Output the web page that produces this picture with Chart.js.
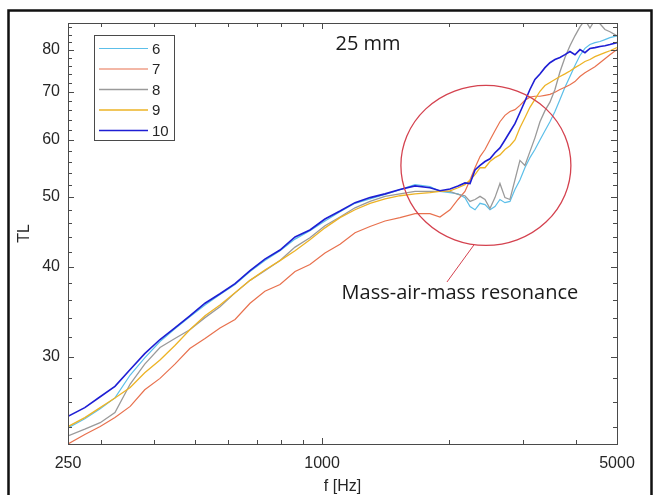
<!DOCTYPE html>
<html>
<head>
<meta charset="utf-8">
<script src="https://cdn.jsdelivr.net/npm/chart.js@4.4.1/dist/chart.umd.min.js"></script>
<style>
  html, body { margin: 0; padding: 0; background: #fff; }
  #wrap { width: 654px; height: 495px; }
</style>
</head>
<body>
<div id="wrap"><canvas id="grafico" width="654" height="495"></canvas></div>
<script>
// Frecuencias (Hz) comunes a todas las curvas
const frecuencias = [250, 274, 298, 323, 351, 380, 413, 448, 486, 528, 573, 622, 675, 732, 795, 863, 936, 1016, 1103, 1197,
  1299, 1410, 1530, 1661, 1802, 1903, 2010, 2100, 2181, 2242, 2304, 2368, 2433, 2500, 2569, 2640, 2713, 2788, 2865, 2944,
  3025, 3109, 3195, 3284, 3375, 3468, 3564, 3663, 3764, 3868, 3975, 4085, 4198, 4314, 4433, 4556, 4682, 4811, 5000];

const tl6 = [23.9, 24.6, 25.4, 26.3, 28.3, 29.9, 31.5, 32.8, 34.1, 35.4, 36.6, 37.8, 39.4, 40.8, 42.1, 43.7, 44.9, 46.3, 47.7, 49.0,
  49.7, 50.4, 51.2, 52.0, 51.7, 50.9, 50.7, 50.5, 49.9, 48.5, 48.0, 49.0, 48.8, 48.0, 48.5, 49.6, 49.1, 49.3, 51.2, 52.8,
  54.9, 56.7, 58.2, 60.0, 61.8, 63.6, 65.7, 68.3, 71.0, 73.5, 76.1, 78.6, 80.4, 81.4, 81.9, 82.2, 82.7, 83.2, 83.7];
const tl7 = [22.7, 23.4, 24.0, 24.7, 25.6, 27.0, 28.0, 29.3, 30.8, 31.8, 32.9, 33.8, 35.6, 37.0, 37.8, 39.4, 40.3, 41.8, 43.0, 44.6,
  45.5, 46.3, 46.8, 47.4, 47.4, 46.9, 48.0, 49.6, 50.9, 52.8, 54.9, 56.9, 58.2, 60.0, 61.8, 63.6, 64.9, 65.7, 66.1, 67.0,
  68.1, 68.8, 69.0, 69.0, 69.2, 69.4, 69.9, 70.5, 71.0, 71.6, 72.3, 73.5, 74.4, 75.1, 75.8, 76.8, 77.8, 78.8, 80.1];
const tl8 = [23.3, 23.8, 24.3, 25.1, 27.5, 29.3, 30.9, 31.8, 32.7, 34.0, 35.2, 36.8, 38.3, 39.5, 40.8, 42.6, 43.9, 45.6, 46.9, 48.3,
  49.3, 50.1, 50.5, 50.9, 50.9, 50.9, 50.9, 50.4, 50.2, 49.3, 49.6, 50.1, 49.6, 48.2, 49.9, 52.2, 49.9, 49.6, 52.8, 56.2,
  55.3, 57.8, 60.4, 63.6, 65.9, 67.7, 70.5, 74.6, 78.1, 81.1, 83.7, 86.1, 88.1, 85.8, 88.1, 87.0, 85.4, 84.8, 83.7];
const tl9 = [24.0, 24.7, 25.5, 26.3, 27.2, 28.5, 29.7, 31.1, 32.7, 34.2, 35.4, 36.8, 38.3, 39.6, 40.8, 42.1, 43.6, 45.3, 46.8, 48.0,
  49.0, 49.7, 50.2, 50.5, 50.7, 50.9, 51.0, 51.5, 52.0, 52.8, 53.7, 54.9, 54.9, 56.0, 56.7, 57.2, 58.2, 58.9, 60.0, 62.4,
  64.4, 66.6, 68.3, 70.1, 71.4, 72.1, 72.8, 73.5, 74.1, 74.8, 75.6, 76.3, 77.1, 77.6, 78.3, 78.8, 79.3, 79.8, 80.6];
const tl10 = [24.8, 25.5, 26.4, 27.3, 28.8, 30.3, 31.7, 32.9, 34.2, 35.6, 36.7, 37.9, 39.5, 41.0, 42.2, 44.0, 45.0, 46.6, 47.8, 49.1,
  49.9, 50.5, 51.2, 51.8, 51.5, 51.0, 51.3, 51.8, 52.3, 52.2, 54.5, 55.3, 56.0, 56.5, 57.6, 58.5, 60.0, 61.6, 63.2, 65.5,
  67.9, 70.5, 72.8, 74.1, 75.6, 76.8, 77.6, 78.1, 78.8, 79.6, 78.8, 80.1, 79.3, 80.4, 80.6, 80.9, 81.1, 81.4, 81.9];

const nombres = ["6", "7", "8", "9", "10"];
const series = [tl6, tl7, tl8, tl9, tl10];
const colores = ["#5cbfe9", "#e8714e", "#9a9a9a", "#edb325", "#1e1ed4"];
const grosores = [1.2, 1.2, 1.3, 1.3, 1.6];

// Marcas de los ejes
const marcasX = [250, 300, 400, 500, 600, 700, 800, 900, 1000, 2000, 3000, 4000, 5000];
const etiquetasX = [250, 1000, 5000];
const marcasY = [24, 26, 28, 30, 32, 34, 36, 38, 40, 42, 44, 46, 48, 50, 52, 54, 56, 58, 60, 62, 64, 66, 68, 70, 72, 74, 76, 78, 80, 82, 84, 86];
const etiquetasY = [30, 40, 50, 60, 70, 80];

const colorTexto = "#262626";
const fuenteEjes = "Liberation Sans, Arial, sans-serif";

// Anotaciones (en unidades de los datos)
const titulo = { texto: "25 mm", f: 1285, tl: 81.4 };
const elipse = { f: 2445, tl: 55.3, rx: 85, ry: 80 };
const flecha = { f1: 2291, tl1: 42.9, f2: 1977, tl2: 38.1 };
const nota = { texto: "Mass-air-mass resonance", f: 2122, tl: 36.7 };

const datasets = series.map((s, i) => ({
  label: nombres[i],
  data: frecuencias.map((f, k) => ({ x: f, y: s[k] })),
  borderColor: colores[i],
  borderWidth: grosores[i],
  pointRadius: 0,
  tension: 0,
  fill: false,
  order: series.length - i
}));

// Caja, marcas hacia dentro, leyenda y anotaciones
const marco = {
  id: "marco",
  afterDatasetsDraw(chart) {
    const { ctx, chartArea: a, scales: { x, y } } = chart;
    ctx.save();

    // caja de los ejes
    ctx.strokeStyle = "#4a4a4a";
    ctx.lineWidth = 1;
    ctx.strokeRect(a.left + 0.5, a.top + 0.5, a.right - a.left, a.bottom - a.top);

    ctx.beginPath();
    marcasX.forEach(v => {
      const px = Math.round(x.getPixelForValue(v)) + 0.5;
      const l = etiquetasX.includes(v) ? 6 : 4;
      ctx.moveTo(px, a.bottom); ctx.lineTo(px, a.bottom - l);
      ctx.moveTo(px, a.top); ctx.lineTo(px, a.top + l);
    });
    marcasY.forEach(v => {
      const py = Math.round(y.getPixelForValue(v)) + 0.5;
      const l = etiquetasY.includes(v) ? 6 : 4;
      ctx.moveTo(a.left, py); ctx.lineTo(a.left + l, py);
      ctx.moveTo(a.right, py); ctx.lineTo(a.right - l, py);
    });
    ctx.stroke();

    // elipse y línea de la nota
    const cx = x.getPixelForValue(elipse.f), cy = y.getPixelForValue(elipse.tl);
    ctx.strokeStyle = "#d4424f";
    ctx.lineWidth = 1.3;
    ctx.beginPath();
    ctx.ellipse(cx, cy, elipse.rx, elipse.ry, 0, 0, Math.PI * 2);
    ctx.stroke();
    ctx.lineWidth = 1;
    ctx.beginPath();
    ctx.moveTo(x.getPixelForValue(flecha.f1), y.getPixelForValue(flecha.tl1));
    ctx.lineTo(x.getPixelForValue(flecha.f2), y.getPixelForValue(flecha.tl2));
    ctx.stroke();

    // textos
    ctx.fillStyle = "#1a1a1a";
    ctx.font = "20px 'Open Sans', sans-serif";
    ctx.textAlign = "center";
    ctx.textBaseline = "middle";
    ctx.fillText(titulo.texto, x.getPixelForValue(titulo.f), y.getPixelForValue(titulo.tl));
    ctx.fillText(nota.texto, x.getPixelForValue(nota.f), y.getPixelForValue(nota.tl));

    // leyenda
    const lx = a.left + 26, ly = a.top + 12, lw = 80, lh = 105;
    ctx.fillStyle = "#fff";
    ctx.fillRect(lx, ly, lw, lh);
    ctx.strokeStyle = "#4a4a4a";
    ctx.lineWidth = 1;
    ctx.strokeRect(lx + 0.5, ly + 0.5, lw, lh);
    ctx.font = "15px " + fuenteEjes;
    ctx.textAlign = "left";
    chart.data.datasets.forEach((ds, i) => {
      const yy = ly + 13.5 + i * 20.5;
      ctx.strokeStyle = ds.borderColor;
      ctx.lineWidth = ds.borderWidth;
      ctx.beginPath();
      ctx.moveTo(lx + 5, yy); ctx.lineTo(lx + 54, yy);
      ctx.stroke();
      ctx.fillStyle = colorTexto;
      ctx.fillText(ds.label, lx + 58, yy + 1);
    });

    // títulos de ejes
    ctx.fillStyle = colorTexto;
    ctx.font = "16px " + fuenteEjes;
    ctx.textAlign = "center";
    ctx.fillText("f [Hz]", (a.left + a.right) / 2, 487);
    ctx.save();
    ctx.translate(25, (a.top + a.bottom) / 2);
    ctx.rotate(-Math.PI / 2);
    ctx.fillText("TL", 0, 0);
    ctx.restore();

    ctx.restore();
  },
  afterDraw(chart) {
    const ctx = chart.ctx;
    ctx.save();
    ctx.strokeStyle = "#111";
    ctx.lineWidth = 2.5;
    ctx.strokeRect(8.5, 10.5, 643, 495);
    ctx.restore();
  }
};

new Chart(document.getElementById("grafico"), {
  type: "line",
  data: { datasets },
  options: {
    responsive: false,
    animation: false,
    events: [],
    layout: { padding: { left: 8, top: 23, right: 37, bottom: 0 } },
    plugins: { legend: { display: false }, tooltip: { enabled: false } },
    scales: {
      x: {
        type: "logarithmic",
        min: 250,
        max: 5000,
        afterBuildTicks: (s) => { s.ticks = marcasX.map(v => ({ value: v })); },
        afterFit: (s) => { s.height = 51; },
        grid: { display: false, drawTicks: false },
        border: { display: false },
        ticks: {
          autoSkip: false,
          maxRotation: 0,
          padding: 10,
          color: colorTexto,
          font: { family: fuenteEjes, size: 16 },
          callback: (v) => etiquetasX.includes(v) ? String(v) : ""
        }
      },
      y: {
        type: "logarithmic",
        min: 22.7,
        max: 87.2,
        afterBuildTicks: (s) => { s.ticks = marcasY.map(v => ({ value: v })); },
        afterFit: (s) => { s.width = 60; },
        grid: { display: false, drawTicks: false },
        border: { display: false },
        ticks: {
          autoSkip: false,
          padding: 8,
          color: colorTexto,
          font: { family: fuenteEjes, size: 16 },
          callback: (v) => etiquetasY.includes(v) ? String(v) : ""
        }
      }
    }
  },
  plugins: [marco]
});
</script>
</body>
</html>
